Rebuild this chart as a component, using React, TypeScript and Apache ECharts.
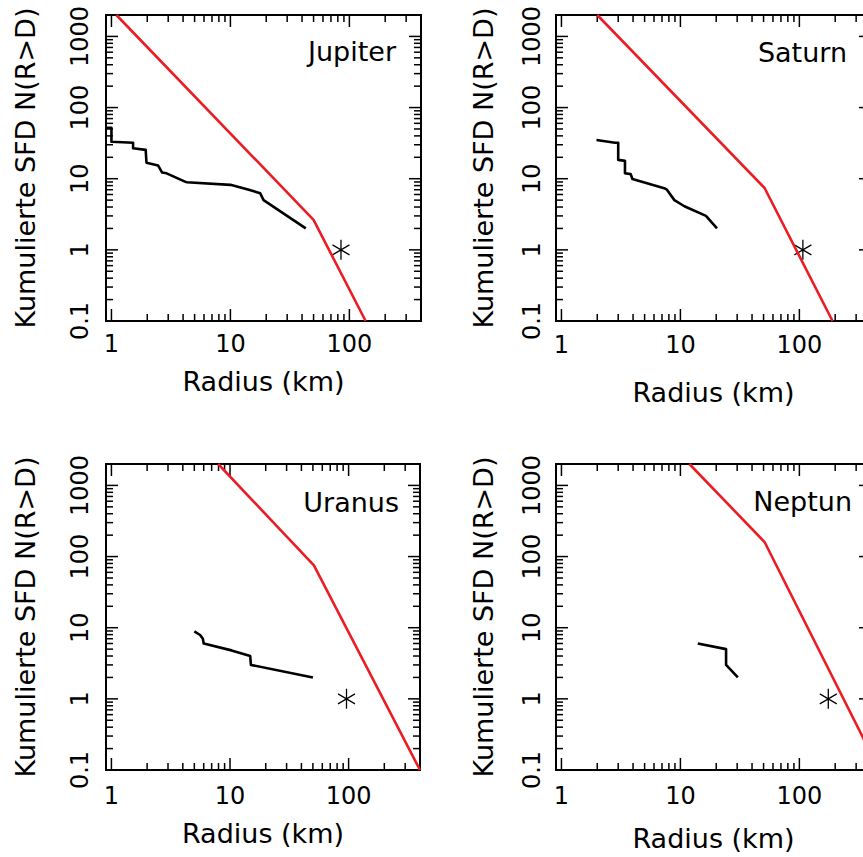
import React, { useEffect, useRef } from 'react';
import * as echarts from 'echarts';

// ---------------- data ----------------
const panelNames = ['Jupiter', 'Saturn', 'Uranus', 'Neptun'];

const jupiterModel = [[1.1, 2000], [50, 2.64], [137, 0.1]];
const jupiterMoons = [[0.91, 52], [1.0, 52], [1.0, 33], [1.52, 32], [1.52, 26.8], [1.94, 25.4], [1.97, 16.8], [2.47, 15.3], [2.67, 12.2], [2.91, 11.9], [4.15, 9.1], [4.3, 8.9], [10, 8.2], [13.8, 7.1], [17.8, 6.25], [19, 5.0], [43, 2]];
const jupiterStar = [[85, 1]];

const saturnModel = [[2.0, 2000], [51, 7.4], [190, 0.1]];
const saturnMoons = [[1.97, 35], [2.82, 32], [3.0, 32], [3.0, 18.4], [3.42, 17.8], [3.42, 11.9], [3.82, 11.6], [3.95, 9.9], [7.3, 7.35], [7.7, 7.0], [8.9, 5.0], [10.8, 4.1], [16.4, 3.0], [20.3, 2.0]];
const saturnStar = [[107, 1]];

const uranusModel = [[7.95, 2000], [51, 75], [400, 0.1]];
const uranusMoons = [[5, 8.9], [5.6, 7.9], [5.9, 7.0], [6.0, 6.0], [10.3, 4.8], [14.8, 4.0], [15, 3.0], [50, 2]];
const uranusStar = [[96, 1]];

const neptuneModel = [[11.9, 2000], [51, 160], [400, 0.17]];
const neptuneMoons = [[14, 6], [24.2, 5], [24.2, 3], [30.4, 2]];
const neptuneStar = [[175, 1]];

const xTickValues = [1, 10, 100];
const xTickLabels = ['1', '10', '100'];
const yTickValues = [0.1, 1, 10, 100, 1000];
const yTickLabels = ['0.1', '1', '10', '100', '1000'];

const xMinorTicks = [2, 3, 4, 5, 6, 7, 8, 9, 20, 30, 40, 50, 60, 70, 80, 90, 200, 300];
const yMinorTicks = [0.2, 0.3, 0.4, 0.5, 0.6, 0.7, 0.8, 0.9, 2, 3, 4, 5, 6, 7, 8, 9, 20, 30, 40, 50, 60, 70, 80, 90, 200, 300, 400, 500, 600, 700, 800, 900];

const xTitle = 'Radius (km)';
const yTitle = 'Kumulierte SFD N(R>D)';

// ---------------- layout / style ----------------
const FONT = '"DejaVu Sans", "Noto Sans", sans-serif';
const RED = '#ec1c24';
const grids = [
  { left: 106, top: 15, width: 315, height: 306 },
  { left: 556, top: 15, width: 315, height: 306 },
  { left: 106, top: 464, width: 314, height: 306 },
  { left: 556, top: 464, width: 315, height: 306 },
];
const xLabelMargin = [11, 12, 14, 14];
const xNameGap = [47, 58, 50, 55];
const yLabelMargin = [14, 12.5, 14, 12.5];
const yNameGap = [67, 59, 67, 59];
const titlePos = [[396, 51], [847, 52.5], [399, 502.5], [852, 501]];

const models = [jupiterModel, saturnModel, uranusModel, neptuneModel];
const moons = [jupiterMoons, saturnMoons, uranusMoons, neptuneMoons];
const stars = [jupiterStar, saturnStar, uranusStar, neptuneStar];

function labelFor(v: number, vals: number[], labels: string[]) {
  for (let i = 0; i < vals.length; i++) {
    if (Math.abs(Math.log10(v) - Math.log10(vals[i])) < 1e-6) return labels[i];
  }
  return '';
}

function tickData() {
  const d: number[][] = [];
  xTickValues.forEach((v) => d.push([v, 1, 0, 1]));
  xMinorTicks.forEach((v) => d.push([v, 1, 0, 0]));
  yTickValues.forEach((v) => d.push([1, v, 1, 1]));
  yMinorTicks.forEach((v) => d.push([1, v, 1, 0]));
  return d;
}

const STAR_PATH = 'path://M0,-10L0,10M-8.66,-5L8.66,5M-8.66,5L8.66,-5';

export default function App() {
  const ref = useRef<HTMLDivElement>(null);
  useEffect(() => {
    if (!ref.current) return;
    const chart = echarts.init(ref.current, null, { renderer: 'svg' });
    const xAxis: any[] = [];
    const yAxis: any[] = [];
    const series: any[] = [];
    grids.forEach((g, i) => {
      xAxis.push({
        type: 'log', logBase: 10, gridIndex: i, min: 0.9, max: 400,
        axisLine: { show: false }, axisTick: { show: false }, splitLine: { show: false },
        axisLabel: {
          margin: xLabelMargin[i], fontSize: 24, fontFamily: FONT, color: '#000',
          showMinLabel: false, showMaxLabel: false,
          formatter: (v: number) => labelFor(v, xTickValues, xTickLabels),
        },
        name: xTitle, nameLocation: 'middle', nameGap: xNameGap[i],
        nameTextStyle: { fontSize: 27, fontFamily: FONT, color: '#000' },
      });
      yAxis.push({
        type: 'log', logBase: 10, gridIndex: i, min: 0.1, max: 2000,
        axisLine: { show: false }, axisTick: { show: false }, splitLine: { show: false },
        axisLabel: {
          margin: yLabelMargin[i], fontSize: 24, fontFamily: FONT, color: '#000', rotate: 90,
          showMinLabel: true, showMaxLabel: false,
          formatter: (v: number) => labelFor(v, yTickValues, yTickLabels),
        },
        name: yTitle, nameLocation: 'middle', nameGap: yNameGap[i],
        nameTextStyle: { fontSize: 27, fontFamily: FONT, color: '#000' },
      });
      series.push({
        type: 'custom', xAxisIndex: i, yAxisIndex: i, silent: true,
        data: tickData(),
        renderItem: (params: any, api: any) => {
          const cs = params.coordSys;
          const kind = api.value(2);
          const len = api.value(3) ? 12 : 7;
          const st = { stroke: '#000', lineWidth: 1.5 };
          if (kind === 0) {
            const p = api.coord([api.value(0), 1]);
            const x = p[0];
            return {
              type: 'group', children: [
                { type: 'line', shape: { x1: x, y1: cs.y + cs.height, x2: x, y2: cs.y + cs.height - len }, style: st },
                { type: 'line', shape: { x1: x, y1: cs.y, x2: x, y2: cs.y + len }, style: st },
              ],
            };
          }
          const p = api.coord([1, api.value(1)]);
          const y = p[1];
          return {
            type: 'group', children: [
              { type: 'line', shape: { x1: cs.x, y1: y, x2: cs.x + len, y2: y }, style: st },
              { type: 'line', shape: { x1: cs.x + cs.width, y1: y, x2: cs.x + cs.width - len, y2: y }, style: st },
            ],
          };
        },
      });
      series.push({
        type: 'line', xAxisIndex: i, yAxisIndex: i, data: models[i], symbol: 'none', showSymbol: false,
        lineStyle: { color: RED, width: 2.6 }, clip: true, silent: true,
      });
      series.push({
        type: 'line', xAxisIndex: i, yAxisIndex: i, data: moons[i], symbol: 'none', showSymbol: false,
        lineStyle: { color: '#000', width: 2.6, join: 'round' }, clip: true, silent: true,
      });
      series.push({
        type: 'scatter', xAxisIndex: i, yAxisIndex: i, data: stars[i], symbol: STAR_PATH,
        symbolSize: [17, 20], itemStyle: { color: 'none', borderColor: '#000', borderWidth: 1.4, opacity: 1 },
        silent: true,
      });
    });
    chart.setOption({
      animation: false,
      backgroundColor: '#fff',
      grid: grids.map((g) => ({ ...g, show: true, borderColor: '#000', borderWidth: 2, backgroundColor: 'transparent', containLabel: false, outerBoundsMode: 'none' })),
      xAxis, yAxis, series,
      graphic: panelNames.map((n, i) => ({
        type: 'text', x: titlePos[i][0], y: titlePos[i][1], silent: true,
        style: { text: n, font: '27px ' + FONT, fill: '#000', textAlign: 'right', textVerticalAlign: 'middle', align: 'right', verticalAlign: 'middle' },
      })),
    });
    return () => chart.dispose();
  }, []);
  return <div ref={ref} style={{ position: 'absolute', left: 0, top: 0, width: 863, height: 857 }} />;
}
